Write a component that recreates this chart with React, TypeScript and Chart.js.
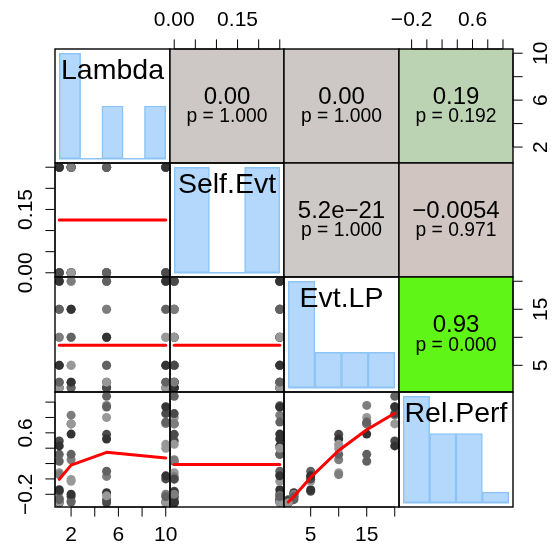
import React, { useEffect, useRef } from "react";
import { Chart, registerables } from "chart.js";

Chart.register(...registerables);

const W = 554;
const H = 546;
const FONT = '"Liberation Sans", Arial, Helvetica, sans-serif';

// ---------------- data ----------------
const varNames = ["Lambda", "Self.Evt", "Evt.LP", "Rel.Perf"];
const lambdaLevels = [1, 2, 5, 10];
const selfEvtLevels = [0, 0.25];
const evtLPLevels = [1, 2, 5, 10, 15, 20];

// Rel.Perf at each Evt.LP level, one list per Lambda x Self.Evt cell
const relPerfL1S0 = [-0.31, -0.25, -0.16, 0.08, 0.23, 0.495];
const relPerfL1S1 = [-0.3, -0.27, -0.14, 0.056, 0.32, 0.43];
const relPerfL2S0 = [-0.29, -0.23, -0.006, 0.25, 0.716, 0.716];
const relPerfL2S1 = [-0.3, -0.2, -0.03, 0.32, 0.584, 0.83];
const relPerfL5S0 = [-0.31, -0.18, 0.033, 0.58, 0.8, 1.076];
const relPerfL5S1 = [-0.27, -0.22, 0.1, 0.52, 0.957, 0.935];
const relPerfL10S0 = [-0.3, -0.2, 0.0, 0.45, 0.72, 0.85];
const relPerfL10S1 = [-0.31, -0.23, 0.04, 0.4, 0.74, 0.94];

// histogram counts (equal-width bins over each variable's range)
const lambdaHist = [24, 0, 12, 0, 12];
const selfEvtHist = [24, 0, 24];
const evtLPHist = [24, 8, 8, 8];
const relPerfHist = [20, 13, 13, 2];

// smoothing lines (lower panels)
const smoothSelfEvtByLambda = [0.125, 0.125, 0.125, 0.125];
const smoothEvtLPByLambda = [8.6, 8.6, 8.6, 8.6];
const smoothRelPerfByLambda = [-0.006, 0.18, 0.346, 0.271];
const smoothEvtLPBySelfEvt = [8.6, 8.6];
const smoothRelPerfBySelfEvt = [0.188, 0.188];
const smoothRelPerfByEvtLP = [-0.3, -0.23, 0.02, 0.37, 0.64, 0.855];

// axis ticks
const lambdaTicks = [2, 4, 6, 8, 10];
const lambdaTickLabels = ["2", "", "6", "", "10"];
const selfEvtTicks = [0, 0.05, 0.1, 0.15, 0.2, 0.25];
const selfEvtTickLabels = ["0.00", "", "", "0.15", "", ""];
const evtLPTicks = [5, 10, 15, 20];
const evtLPTickLabels = ["5", "", "15", ""];
const relPerfTicks = [-0.2, 0, 0.2, 0.4, 0.6, 0.8, 1.0];
const relPerfTickLabels = ["\u22120.2", "", "", "", "0.6", "", ""];

// upper panels: (0,1) (0,2) (0,3) (1,2) (1,3) (2,3)
const corrValues = ["0.00", "0.00", "0.19", "5.2e\u221221", "\u22120.0054", "0.93"];
const pValues = ["1.000", "1.000", "0.192", "1.000", "0.971", "0.000"];
const corrColors = ["#cdc8c6", "#cdc8c6", "#bcd3b3", "#cdc9c7", "#d0c5c1", "#5ff516"];

// ---------------- derived tables ----------------
const relPerfCells = [
  [relPerfL1S0, relPerfL1S1],
  [relPerfL2S0, relPerfL2S1],
  [relPerfL5S0, relPerfL5S1],
  [relPerfL10S0, relPerfL10S1],
];
const columns: number[][] = [[], [], [], []];
lambdaLevels.forEach((lam, li) =>
  selfEvtLevels.forEach((se, si) =>
    evtLPLevels.forEach((ev, ei) => {
      columns[0].push(lam);
      columns[1].push(se);
      columns[2].push(ev);
      columns[3].push(relPerfCells[li][si][ei]);
    })
  )
);
const dataRange = columns.map((col) => [Math.min(...col), Math.max(...col)]);
const ranges = dataRange.map(([lo, hi]) => {
  const e = (hi - lo) * 0.04;
  return [lo - e, hi + e];
});
const histCounts = [lambdaHist, selfEvtHist, evtLPHist, relPerfHist];
const tickValues = [lambdaTicks, selfEvtTicks, evtLPTicks, relPerfTicks];
const tickLabels = [lambdaTickLabels, selfEvtTickLabels, evtLPTickLabels, relPerfTickLabels];
const levelsOf = [lambdaLevels, selfEvtLevels, evtLPLevels];
const smoothFor: Record<string, number[]> = {
  "1,0": smoothSelfEvtByLambda,
  "2,0": smoothEvtLPByLambda,
  "3,0": smoothRelPerfByLambda,
  "2,1": smoothEvtLPBySelfEvt,
  "3,1": smoothRelPerfBySelfEvt,
  "3,2": smoothRelPerfByEvtLP,
};
const upperIndex: Record<string, number> = { "0,1": 0, "0,2": 1, "0,3": 2, "1,2": 3, "1,3": 4, "2,3": 5 };

// ---------------- layout / style ----------------
const X = [55, 170, 284, 399, 513];
const Y = [49, 163, 277, 392, 507];
const HIST_FILL = "#b4d8fb";
const HIST_LINE = "#8cc4f6";
const GRAYS = ["#333333", "#4a4a4a", "#626262", "#7d7d7d", "#989898"];
const TICK_LEN = 9.6;

function panelPlugin(r: number, c: number) {
  const key = `${r},${c}`;
  return {
    id: "panel" + r + c,
    beforeDatasetsDraw(chart: any) {
      const a = chart.chartArea;
      const ctx = chart.ctx;
      if (r < c) {
        ctx.save();
        ctx.fillStyle = corrColors[upperIndex[key]];
        ctx.fillRect(a.left, a.top, a.right - a.left, a.bottom - a.top);
        ctx.restore();
      }
    },
    afterDraw(chart: any) {
      const a = chart.chartArea;
      const ctx = chart.ctx;
      const xs = chart.scales.x;
      const ys = chart.scales.y;
      ctx.save();
      ctx.strokeStyle = "#000";
      ctx.lineWidth = 1.4;
      ctx.strokeRect(a.left, a.top, a.right - a.left, a.bottom - a.top);
      ctx.fillStyle = "#000";
      const cx = (a.left + a.right) / 2;
      const cy = (a.top + a.bottom) / 2;
      if (r === c) {
        ctx.font = `28.5px ${FONT}`;
        ctx.textAlign = "center";
        ctx.textBaseline = "alphabetic";
        ctx.fillText(varNames[r], cx, a.top + 30);
      } else if (r < c) {
        const k = upperIndex[key];
        ctx.textAlign = "center";
        ctx.textBaseline = "alphabetic";
        ctx.font = `24px ${FONT}`;
        ctx.fillText(corrValues[k], cx, cy - 2.5);
        ctx.font = `19.3px ${FONT}`;
        ctx.fillText("p = " + pValues[k], cx, cy + 16);
      }
      // outer axes
      ctx.lineWidth = 1;
      ctx.font = `21px ${FONT}`;
      ctx.textAlign = "center";
      ctx.textBaseline = "alphabetic";
      const drawH = (side: "top" | "bottom", v: number) => {
        const vals = tickValues[v];
        const labs = tickLabels[v];
        const y0 = side === "top" ? a.top : a.bottom;
        const dir = side === "top" ? -1 : 1;
        ctx.beginPath();
        ctx.moveTo(xs.getPixelForValue(vals[0]), y0);
        ctx.lineTo(xs.getPixelForValue(vals[vals.length - 1]), y0);
        vals.forEach((t) => {
          const px = xs.getPixelForValue(t);
          ctx.moveTo(px, y0);
          ctx.lineTo(px, y0 + dir * TICK_LEN);
        });
        ctx.stroke();
        vals.forEach((t, i) => {
          if (!labs[i]) return;
          const px = xs.getPixelForValue(t);
          ctx.fillText(labs[i], px, side === "top" ? y0 - 23 : y0 + 34);
        });
      };
      const drawV = (side: "left" | "right", v: number) => {
        const vals = tickValues[v];
        const labs = tickLabels[v];
        const x0 = side === "left" ? a.left : a.right;
        const dir = side === "left" ? -1 : 1;
        ctx.beginPath();
        ctx.moveTo(x0, ys.getPixelForValue(vals[0]));
        ctx.lineTo(x0, ys.getPixelForValue(vals[vals.length - 1]));
        vals.forEach((t) => {
          const py = ys.getPixelForValue(t);
          ctx.moveTo(x0, py);
          ctx.lineTo(x0 + dir * TICK_LEN, py);
        });
        ctx.stroke();
        vals.forEach((t, i) => {
          if (!labs[i]) return;
          const py = ys.getPixelForValue(t);
          ctx.save();
          ctx.translate(side === "left" ? x0 - 23 : x0 + 34, py);
          ctx.rotate(-Math.PI / 2);
          ctx.fillText(labs[i], 0, 0);
          ctx.restore();
        });
      };
      if (r === 0 && c % 2 === 1) drawH("top", c);
      if (r === 3 && c % 2 === 0) drawH("bottom", c);
      if (c === 0 && r % 2 === 1) drawV("left", r);
      if (c === 3 && r % 2 === 0) drawV("right", r);
      ctx.restore();
    },
  };
}

function buildConfig(r: number, c: number): any {
  const padding = { left: X[c], top: Y[r], right: W - X[c + 1], bottom: H - Y[r + 1] };
  const base = {
    responsive: false,
    animation: false,
    devicePixelRatio: 1,
    events: [],
    layout: { padding, autoPadding: false },
    plugins: { legend: { display: false }, tooltip: { enabled: false } },
  };
  const key = `${r},${c}`;
  if (r === c) {
    const counts = histCounts[c];
    const [lo, hi] = dataRange[c];
    const bw = (hi - lo) / counts.length;
    const breaks = counts.map((_, i) => lo + i * bw).concat([hi]);
    const maxC = Math.max(...counts);
    return {
      type: "bar",
      data: {
        datasets: [
          {
            type: "bar",
            data: counts.map((n, i) => ({ x: lo + (i + 0.5) * bw, y: n })),
            backgroundColor: HIST_FILL,
            borderColor: HIST_LINE,
            borderWidth: 1.5,
            borderSkipped: false,
            barPercentage: 1,
            categoryPercentage: 1,
            order: 1,
            clip: 0,
          },
          {
            type: "line",
            data: [
              { x: lo, y: 0 },
              { x: hi, y: 0 },
            ],
            borderColor: HIST_LINE,
            borderWidth: 1.5,
            pointRadius: 0,
            order: 2,
            clip: 0,
          },
        ],
      },
      options: {
        ...base,
        scales: {
          x: {
            type: "linear",
            display: false,
            min: ranges[c][0],
            max: ranges[c][1],
            offset: false,
            afterBuildTicks: (s: any) => {
              s.ticks = breaks.map((v) => ({ value: v }));
            },
          },
          y: { type: "linear", display: false, min: -0.04 * maxC, max: 1.04 * maxC },
        },
      },
      plugins: [panelPlugin(r, c)],
    };
  }
  const datasets: any[] = [];
  if (r > c) {
    const sm = smoothFor[key];
    datasets.push({
      type: "line",
      data: levelsOf[c].map((x, i) => ({ x, y: sm[i] })),
      borderColor: "#ff0000",
      borderWidth: 3,
      pointRadius: 0,
      fill: false,
      tension: 0,
      borderCapStyle: "round",
      borderJoinStyle: "round",
      order: 0,
      clip: 0,
    });
    datasets.push({
      type: "scatter",
      data: columns[c].map((x, i) => ({ x, y: columns[r][i] })),
      pointRadius: 4.5,
      pointBorderWidth: 0,
      pointBackgroundColor: columns[c].map((_, i) => GRAYS[(i * 3 + Math.floor(i / 5)) % GRAYS.length]),
      order: 1,
      clip: 0,
    });
  }
  return {
    type: "scatter",
    data: { datasets },
    options: {
      ...base,
      scales: {
        x: { type: "linear", display: false, min: ranges[c][0], max: ranges[c][1] },
        y: { type: "linear", display: false, min: ranges[r][0], max: ranges[r][1] },
      },
    },
    plugins: [panelPlugin(r, c)],
  };
}

export default function App() {
  const refs = useRef<(HTMLCanvasElement | null)[]>([]);
  useEffect(() => {
    const charts: Chart[] = [];
    for (let r = 0; r < 4; r++) {
      for (let c = 0; c < 4; c++) {
        const cv = refs.current[r * 4 + c];
        if (!cv) continue;
        charts.push(new Chart(cv, buildConfig(r, c)));
      }
    }
    return () => charts.forEach((ch) => ch.destroy());
  }, []);
  return (
    <div
      style={{
        position: "absolute",
        left: 0,
        top: 0,
        width: W,
        height: H,
        background: "#ffffff",
        overflow: "hidden",
      }}
    >
      {Array.from({ length: 16 }).map((_, i) => (
        <canvas
          key={i}
          ref={(el) => {
            refs.current[i] = el;
          }}
          width={W}
          height={H}
          style={{ position: "absolute", left: 0, top: 0, width: W, height: H }}
        />
      ))}
    </div>
  );
}
